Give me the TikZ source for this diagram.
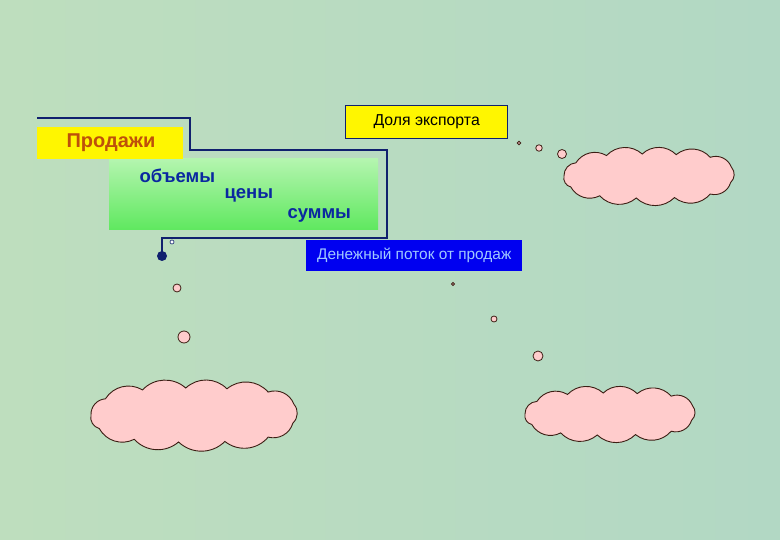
\documentclass[tikz,border=0pt]{standalone}
\usepackage{fontspec}
\setmainfont{Liberation Sans}

\definecolor{bgmint}{RGB}{190,222,190}
\definecolor{bgsea}{RGB}{178,216,196}
\definecolor{linenavy}{RGB}{16,32,110}
\definecolor{labelyellow}{RGB}{255,246,0}
\definecolor{salesbrown}{RGB}{190,80,10}
\definecolor{itemblue}{RGB}{10,40,160}
\definecolor{cashblue}{RGB}{0,0,240}
\definecolor{cashtext}{RGB}{160,200,255}
\definecolor{cloudpink}{RGB}{255,204,204}
\definecolor{cloudline}{RGB}{60,30,20}

\tikzset{
  yellowbox/.style={fill=labelyellow, inner sep=0pt, anchor=north west},
  bubble/.style={circle, draw=cloudline, fill=cloudpink, line width=0.8pt, inner sep=0pt},
  itemtext/.style={text=itemblue, font=\bfseries\fontsize{18.5}{20}\selectfont, anchor=west},
  cloudshape/.style={draw=cloudline, fill=cloudpink, line width=0.9pt, bend left=44}
}

% puffy cloud: centre x, centre y, half width, half height
\newcommand{\puffcloud}[4]{%
  \draw[cloudshape]
    ({#1-1.0*#3},{#2}) to ({#1-0.86*#3},{#2-0.6*#4}) to ({#1-0.5*#3},{#2-0.93*#4})
    to ({#1-0.08*#3},{#2-1.0*#4}) to ({#1+0.32*#3},{#2-0.97*#4}) to ({#1+0.72*#3},{#2-0.85*#4})
    to ({#1+0.97*#3},{#2-0.4*#4}) to ({#1+0.96*#3},{#2+0.3*#4}) to ({#1+0.72*#3},{#2+0.82*#4})
    to ({#1+0.3*#3},{#2+0.98*#4}) to ({#1-0.15*#3},{#2+1.0*#4}) to ({#1-0.58*#3},{#2+0.9*#4})
    to ({#1-0.92*#3},{#2+0.5*#4}) to cycle;
}

\begin{document}
\begin{tikzpicture}[x=1pt, y=-1pt]
  % Bounding box of the slide (780 x 540)
  \useasboundingbox (0,0) rectangle (780,540);

  % Background
  \shade[left color=bgmint, right color=bgsea] (0,0) rectangle (780,540);

  % Navy guide line, from the left edge down to the dot
  \coordinate (lstart) at (37,118);
  \node[circle, fill=linenavy, inner sep=0pt, minimum size=10pt] (dot) at (162,256) {};
  \draw[linenavy, line width=1.8pt] (lstart) -- (190,118) -- (190,150) -- (387,150)
    -- (387,238) -- (162,238) -- (dot.center);

  % Green box with the three items
  \shade[top color={rgb,255:red,180;green,245;blue,175}, bottom color={rgb,255:red,95;green,232;blue,95}]
    (109,159) rectangle (378,230);
  \node[itemtext] (volumes) at (136,176) {объемы};
  \node[itemtext] (prices) at (221,195) {цены};
  \node[itemtext] (sums) at (284,215) {суммы};

  % Sales label
  \node[yellowbox, minimum width=146pt, minimum height=32pt] (sales) at (37,127) {};
  \node[text=salesbrown, font=\bfseries\fontsize{20}{22}\selectfont, anchor=west] (salestext) at (63,143) {Продажи};

  % Export share label
  \node[yellowbox, draw=linenavy, line width=1.4pt, minimum width=162pt, minimum height=33pt,
    font=\fontsize{15.8}{18}\selectfont] (export) at (345,105) {Доля экспорта};

  % Cash flow label
  \node[fill=cashblue, text=cashtext, inner sep=0pt, anchor=north west, minimum width=216pt,
    minimum height=31pt, font=\fontsize{15.4}{17}\selectfont] (cash) at (306,240) {Денежный поток от продаж};

  % Thought bubbles
  \node[circle, draw=linenavy, fill=white, line width=0.6pt, inner sep=0pt, minimum size=4pt] (b0) at (172,242) {};
  \node[bubble, minimum size=8pt] (b1) at (177,288) {};
  \node[bubble, minimum size=12pt] (b2) at (184,337) {};
  \node[bubble, minimum size=3.5pt] (b3) at (519,143) {};
  \node[bubble, minimum size=6.5pt] (b4) at (539,148) {};
  \node[bubble, minimum size=9pt] (b5) at (562,154) {};
  \node[bubble, minimum size=3pt] (b6) at (453,284) {};
  \node[bubble, minimum size=6pt] (b7) at (494,319) {};
  \node[bubble, minimum size=10pt] (b8) at (538,356) {};

  % Clouds
  \puffcloud{194}{415}{103}{27}
  \puffcloud{649}{176}{85}{22}
  \puffcloud{610}{414}{85}{21}
\end{tikzpicture}
\end{document}
